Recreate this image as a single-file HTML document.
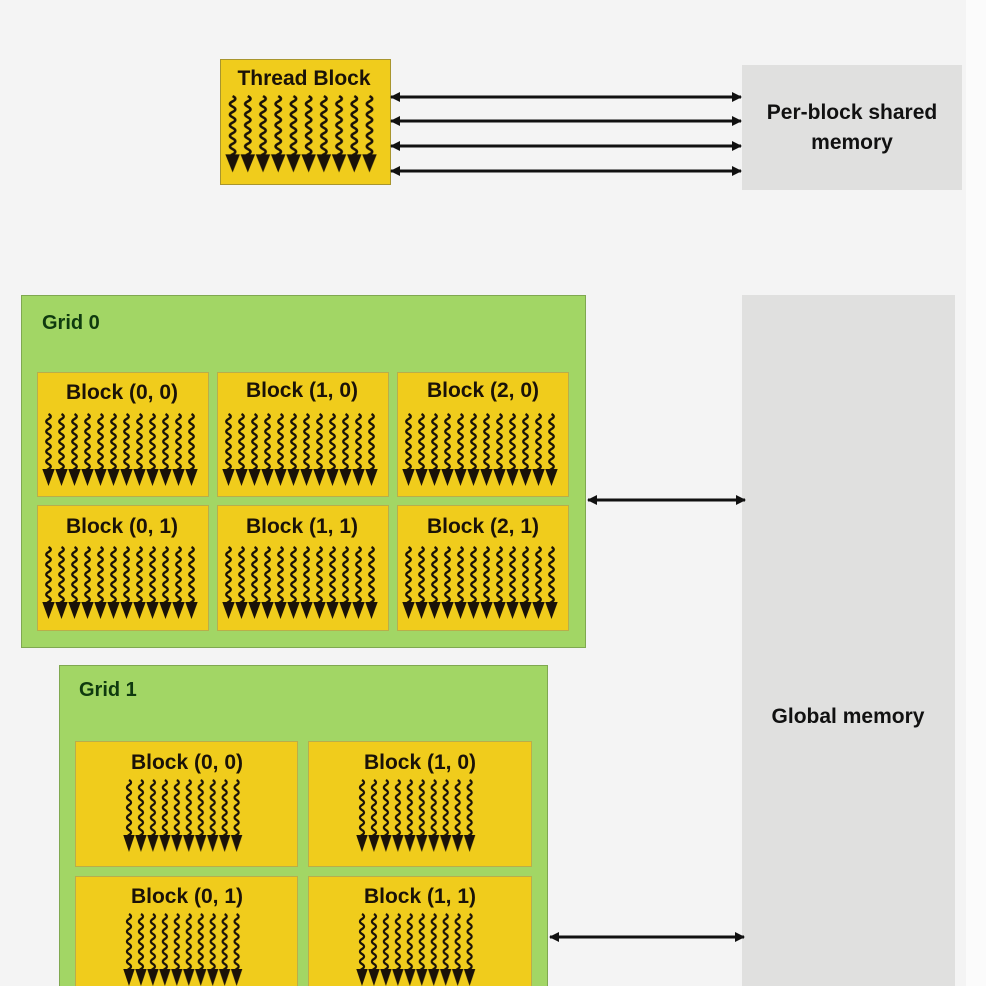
<!DOCTYPE html>
<html><head><meta charset="utf-8"><style>
html,body{margin:0;padding:0;background:#f4f4f4;}
svg{display:block;font-family:"Liberation Sans",Arial,sans-serif;font-weight:bold;}
</style></head><body>
<svg width="986" height="986" viewBox="0 0 986 986" xmlns="http://www.w3.org/2000/svg">
<defs>
<pattern id="th" patternUnits="userSpaceOnUse" width="13" height="80">
<path d="M6.5 1 q4.5 2.5 0 5 t0 5 t0 5 t0 5 t0 5 t0 5 t0 5 t0 5 t0 5 t0 5 t0 5 t0 3" fill="none" stroke="#1a1208" stroke-width="2.3"/>
<path d="M0.3 56 L12.7 56 L6.5 73 Z" fill="#1a1208"/>
</pattern>
<marker id="ah" markerWidth="10" markerHeight="10" refX="9" refY="5" orient="auto-start-reverse" markerUnits="userSpaceOnUse">
<path d="M0 0 L10 5 L0 10 Z" fill="#111"/>
</marker>
</defs>
<rect x="966" y="0" width="20" height="986" fill="#fbfbfb"/>

<!-- Thread block -->
<rect x="220.5" y="59.5" width="170" height="125" fill="#f0cc1c" stroke="#a8952e"/>
<text x="304" y="85" font-size="21" text-anchor="middle" fill="#1a1208">Thread Block</text>
<g transform="translate(225,95) scale(1.17,1.06)"><rect x="0" y="0" width="130" height="74" fill="url(#th)"/></g>

<!-- Shared memory -->
<rect x="742" y="65" width="220" height="125" fill="#e0e0df"/>
<text x="852" y="119" font-size="21" text-anchor="middle" fill="#111">Per-block shared</text>
<text x="852" y="149" font-size="21" text-anchor="middle" fill="#111">memory</text>
<g stroke="#111" stroke-width="3" marker-start="url(#ah)" marker-end="url(#ah)">
<line x1="391" y1="97" x2="741" y2="97"/>
<line x1="391" y1="121" x2="741" y2="121"/>
<line x1="391" y1="146" x2="741" y2="146"/>
<line x1="391" y1="171" x2="741" y2="171"/>
</g>

<!-- Global memory -->
<rect x="742" y="295" width="213" height="691" fill="#e0e0df"/>
<text x="848" y="723" font-size="21" text-anchor="middle" fill="#111">Global memory</text>

<!-- Grid 0 -->
<rect x="21.5" y="295.5" width="564" height="352" fill="#a2d665" stroke="#7fa850"/>
<text x="42" y="329" font-size="20" fill="#0f3a0f">Grid 0</text>
<g fill="#f0cc1c" stroke="#b9ae4a">
<rect x="37.5" y="372.5" width="171" height="124"/>
<rect x="217.5" y="372.5" width="171" height="124"/>
<rect x="397.5" y="372.5" width="171" height="124"/>
<rect x="37.5" y="505.5" width="171" height="125"/>
<rect x="217.5" y="505.5" width="171" height="125"/>
<rect x="397.5" y="505.5" width="171" height="125"/>
</g>
<g font-size="21" text-anchor="middle" fill="#1a1208">
<text x="122" y="399">Block (0, 0)</text>
<text x="302" y="397">Block (1, 0)</text>
<text x="483" y="397">Block (2, 0)</text>
<text x="122" y="533">Block (0, 1)</text>
<text x="302" y="533">Block (1, 1)</text>
<text x="483" y="533">Block (2, 1)</text>
</g>
<g transform="translate(42,413)"><rect width="156" height="74" fill="url(#th)"/></g>
<g transform="translate(222,413)"><rect width="156" height="74" fill="url(#th)"/></g>
<g transform="translate(402,413)"><rect width="156" height="74" fill="url(#th)"/></g>
<g transform="translate(42,546)"><rect width="156" height="74" fill="url(#th)"/></g>
<g transform="translate(222,546)"><rect width="156" height="74" fill="url(#th)"/></g>
<g transform="translate(402,546)"><rect width="156" height="74" fill="url(#th)"/></g>
<line x1="588" y1="500" x2="745" y2="500" stroke="#111" stroke-width="3" marker-start="url(#ah)" marker-end="url(#ah)"/>

<!-- Grid 1 -->
<rect x="59.5" y="665.5" width="488" height="330" fill="#a2d665" stroke="#7fa850"/>
<text x="79" y="696" font-size="20" fill="#0f3a0f">Grid 1</text>
<g fill="#f0cc1c" stroke="#b9ae4a">
<rect x="75.5" y="741.5" width="222" height="125"/>
<rect x="308.5" y="741.5" width="223" height="125"/>
<rect x="75.5" y="876.5" width="222" height="125"/>
<rect x="308.5" y="876.5" width="223" height="125"/>
</g>
<g font-size="21" text-anchor="middle" fill="#1a1208">
<text x="187" y="769">Block (0, 0)</text>
<text x="420" y="769">Block (1, 0)</text>
<text x="187" y="903">Block (0, 1)</text>
<text x="420" y="903">Block (1, 1)</text>
</g>
<g transform="translate(123,779) scale(0.92,1)"><rect width="130" height="78" fill="url(#th)"/></g>
<g transform="translate(356,779) scale(0.92,1)"><rect width="130" height="78" fill="url(#th)"/></g>
<g transform="translate(123,913) scale(0.92,1)"><rect width="130" height="78" fill="url(#th)"/></g>
<g transform="translate(356,913) scale(0.92,1)"><rect width="130" height="78" fill="url(#th)"/></g>
<line x1="550" y1="937" x2="744" y2="937" stroke="#111" stroke-width="3" marker-start="url(#ah)" marker-end="url(#ah)"/>
</svg>
</body></html>
